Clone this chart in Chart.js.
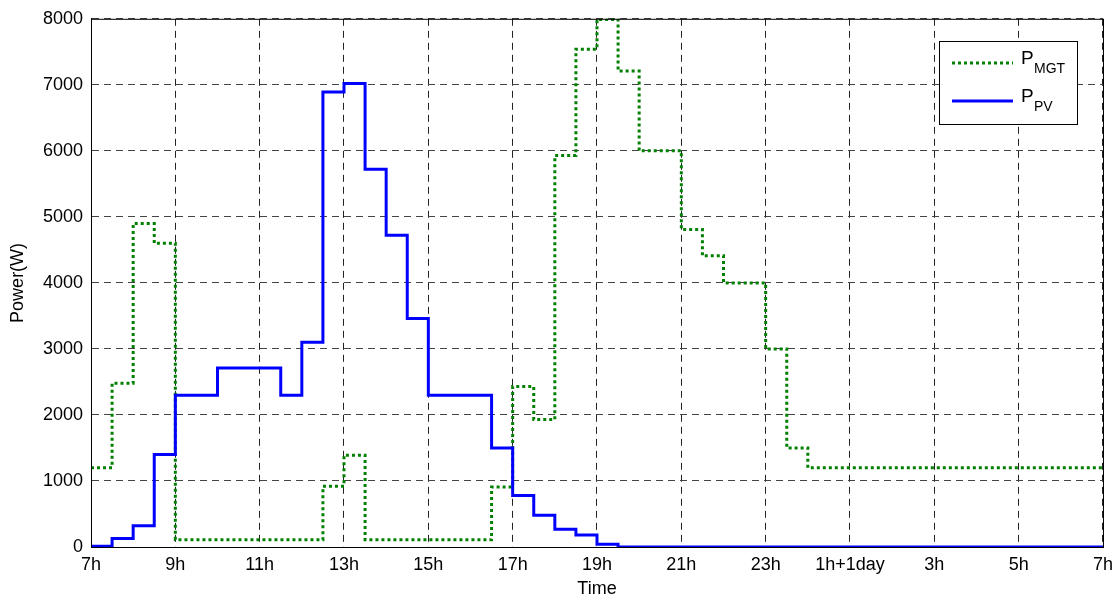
<!DOCTYPE html>
<html>
<head>
<meta charset="utf-8">
<title>Power P_MGT / P_PV</title>
<script src="https://cdn.jsdelivr.net/npm/chart.js@4.4.1/dist/chart.umd.min.js"></script>
<style>
    html, body { margin: 0; padding: 0; background: #fff; }
    #wrap { width: 1120px; height: 600px; position: relative; }
</style>
</head>
<body>
<div id="wrap"><canvas id="powerChart"></canvas></div>
<script>
// half-hour slots starting at 7h, 48 slots = 24h
const slotHours = 0.5;
const xTickLabels = ['7h', '9h', '11h', '13h', '15h', '17h', '19h', '21h', '23h', '1h+1day', '3h', '5h', '7h'];
const yTicks = [0, 1000, 2000, 3000, 4000, 5000, 6000, 7000, 8000];

const mgtValues = [
    1200, 2480, 4900, 4600,
    110, 110, 110, 110, 110, 110, 110,
    920, 1390,
    110, 110, 110, 110, 110, 110,
    910, 2430, 1930,
    5930, 7540, 7990, 7210, 6000, 6000, 4810, 4410, 4000, 4000, 3000, 1500,
    1200, 1200, 1200, 1200, 1200, 1200, 1200, 1200, 1200, 1200, 1200, 1200, 1200, 1200
];

const pvValues = [
    10, 130, 320, 1400, 2300, 2300, 2710, 2710, 2710, 2300, 3100, 6890, 7020,
    5720, 4720, 3460, 2300, 2300, 2300, 1500, 780, 480, 270, 180, 40,
    0, 0, 0, 0, 0, 0, 0, 0, 0, 0, 0, 0, 0, 0, 0, 0, 0, 0, 0, 0, 0, 0, 0
];

const FONT = "'Liberation Sans', Arial, Helvetica, sans-serif";

// each value holds for its slot, last point closes the final slot
function toSteps(values) {
    const pts = values.map((v, i) => ({ x: i * slotHours, y: v }));
    pts.push({ x: values.length * slotHours, y: values[values.length - 1] });
    return pts;
}

// solid frame + matlab style legend with subscripts
const frameAndLegend = {
    id: 'frameAndLegend',
    afterDraw(chart) {
        const { ctx, chartArea: a } = chart;
        ctx.save();
        ctx.setLineDash([]);
        ctx.strokeStyle = '#000';
        ctx.lineWidth = 1;
        ctx.strokeRect(a.left + 0.5, a.top + 0.5, a.right - a.left, a.bottom - a.top);

        const bx = 939, by = 41, bw = 138, bh = 83;
        ctx.fillStyle = '#fff';
        ctx.fillRect(bx, by, bw, bh);
        ctx.strokeRect(bx + 0.5, by + 0.5, bw, bh);

        const items = [
            { sub: 'MGT', color: '#008000', dash: [3, 3], y: 63 },
            { sub: 'PV', color: '#0000ff', dash: [], y: 101 }
        ];
        items.forEach(it => {
            ctx.beginPath();
            ctx.setLineDash(it.dash);
            ctx.strokeStyle = it.color;
            ctx.lineWidth = 3;
            ctx.moveTo(952, it.y);
            ctx.lineTo(1013, it.y);
            ctx.stroke();
            ctx.setLineDash([]);

            ctx.fillStyle = '#000';
            ctx.textBaseline = 'middle';
            ctx.textAlign = 'left';
            ctx.font = '19px ' + FONT;
            ctx.fillText('P', 1021, it.y - 4);
            ctx.font = '14px ' + FONT;
            ctx.fillText(it.sub, 1034, it.y + 6);
        });
        ctx.restore();
    }
};

new Chart(document.getElementById('powerChart').getContext('2d'), {
    type: 'line',
    data: {
        datasets: [
            {
                label: 'P_PV',
                data: toSteps(pvValues),
                borderColor: '#0000ff',
                borderWidth: 3,
                stepped: 'before',
                pointRadius: 0,
                fill: false,
                order: 0
            },
            {
                label: 'P_MGT',
                data: toSteps(mgtValues),
                borderColor: '#008000',
                borderWidth: 3,
                borderDash: [3, 3],
                stepped: 'before',
                pointRadius: 0,
                fill: false,
                order: 1
            }
        ]
    },
    options: {
        responsive: true,
        maintainAspectRatio: false,
        animation: false,
        layout: { padding: { top: 16, right: 16, left: 0, bottom: 0 } },
        plugins: {
            legend: { display: false },
            tooltip: { enabled: false }
        },
        scales: {
            x: {
                type: 'linear',
                min: 0,
                max: 24,
                afterBuildTicks: scale => {
                    scale.ticks = xTickLabels.map((_, i) => ({ value: i * 2 }));
                },
                afterFit: scale => { scale.height = 53; },
                grid: { color: '#222', lineWidth: 1, drawTicks: false },
                border: { display: true, color: '#000', width: 1, dash: [7, 5] },
                ticks: {
                    color: '#000',
                    padding: 7,
                    maxRotation: 0,
                    autoSkip: false,
                    font: { family: FONT, size: 18 },
                    callback: value => xTickLabels[value / 2]
                },
                title: {
                    display: true,
                    text: 'Time',
                    color: '#000',
                    padding: { top: 0, bottom: 0 },
                    font: { family: FONT, size: 18 }
                }
            },
            y: {
                min: 0,
                max: 8000,
                afterBuildTicks: scale => {
                    scale.ticks = yTicks.map(v => ({ value: v }));
                },
                afterFit: scale => { scale.width = 91; },
                grid: { color: '#444', lineWidth: 1, drawTicks: false },
                border: { display: true, color: '#000', width: 1, dash: [7, 5] },
                ticks: {
                    color: '#000',
                    padding: 8,
                    font: { family: FONT, size: 18 },
                    callback: value => String(value)
                },
                title: {
                    display: true,
                    text: 'Power(W)',
                    color: '#000',
                    padding: { top: 7, bottom: 0 },
                    font: { family: FONT, size: 18 }
                }
            }
        }
    },
    plugins: [frameAndLegend]
});
</script>
</body>
</html>
